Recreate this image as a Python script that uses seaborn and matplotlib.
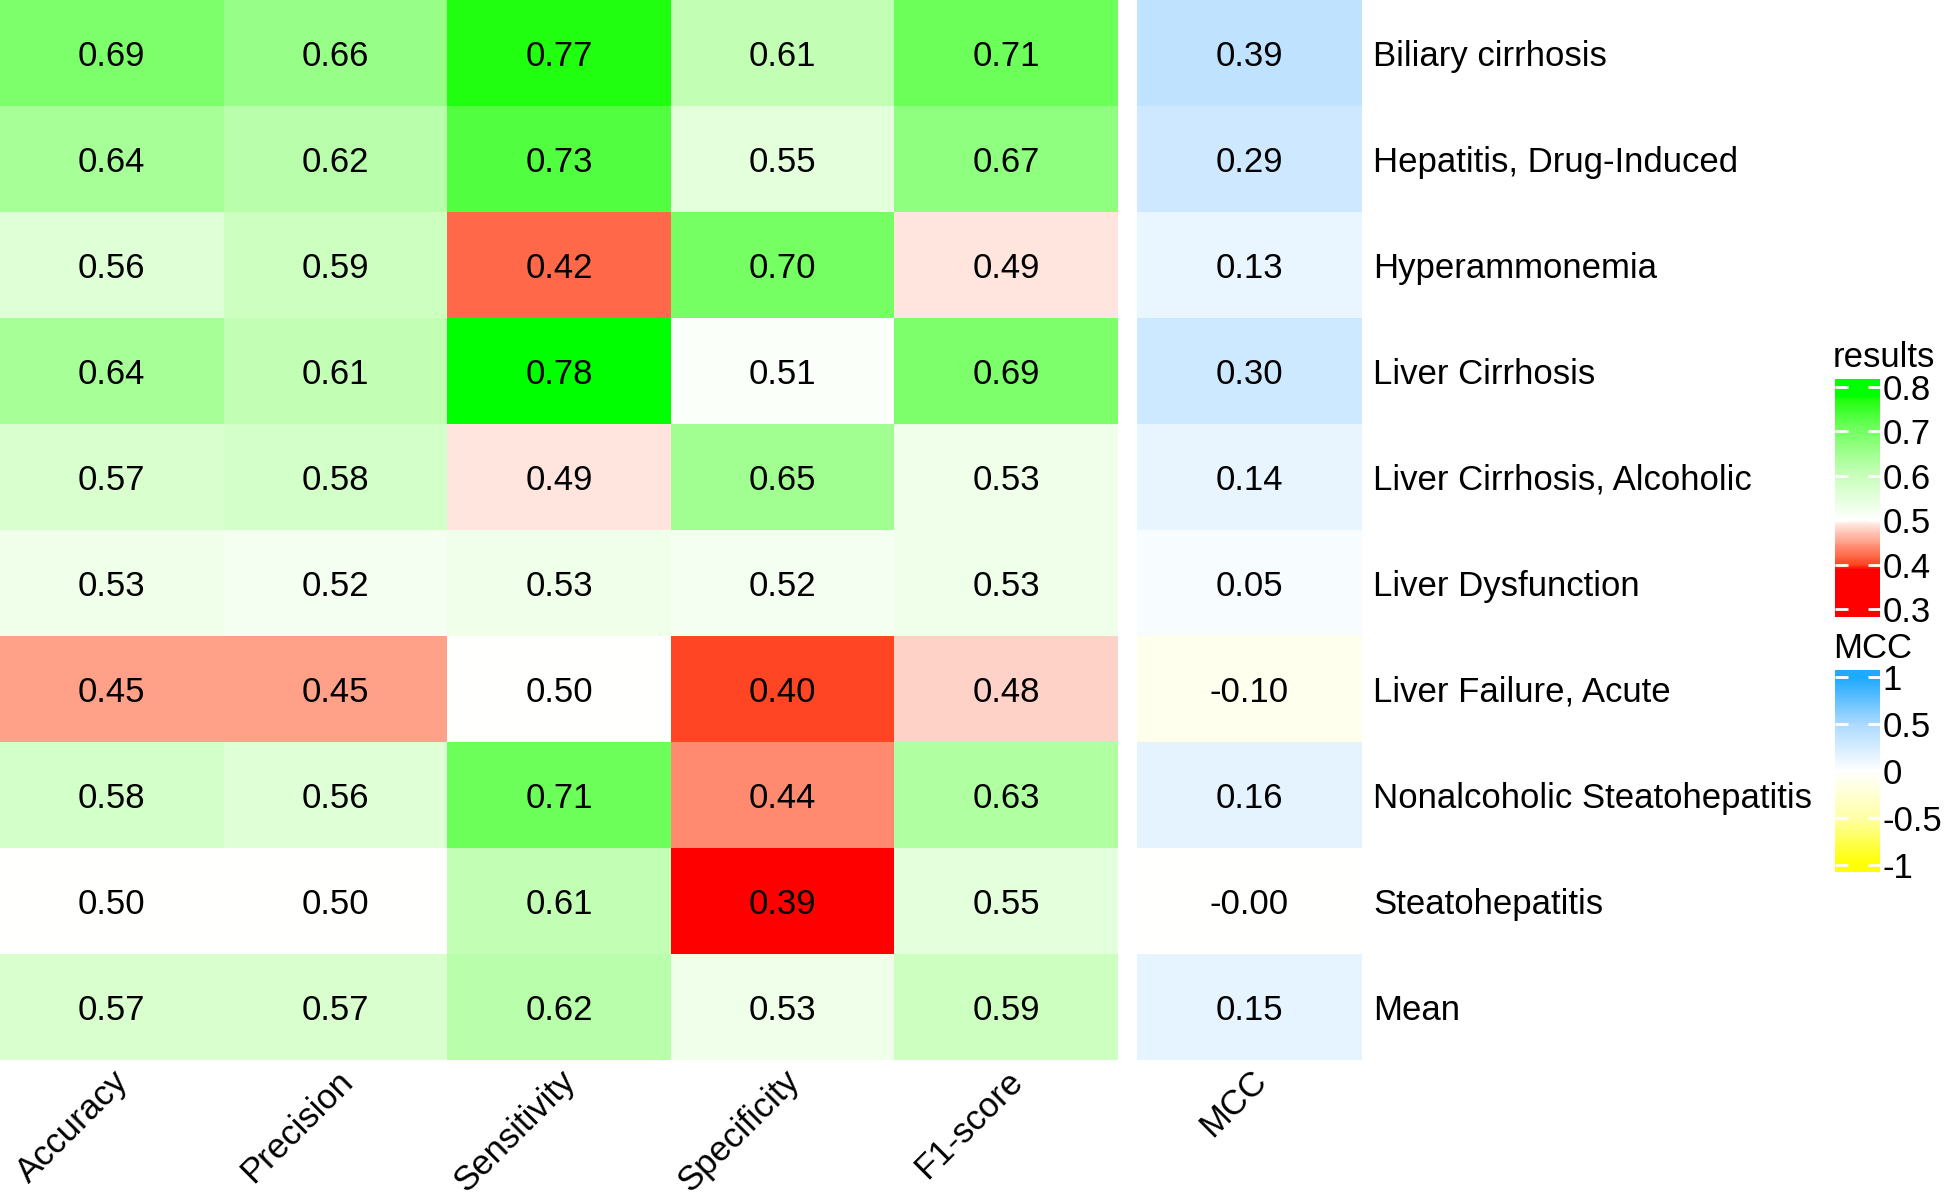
import numpy as np
import pandas as pd
import matplotlib
matplotlib.use("Agg")
import matplotlib.pyplot as plt
from matplotlib.colors import LinearSegmentedColormap
import seaborn as sns

diseases = ["Biliary cirrhosis", "Hepatitis, Drug-Induced", "Hyperammonemia",
            "Liver Cirrhosis", "Liver Cirrhosis, Alcoholic", "Liver Dysfunction",
            "Liver Failure, Acute", "Nonalcoholic Steatohepatitis",
            "Steatohepatitis", "Mean"]
metrics = ["Accuracy", "Precision", "Sensitivity", "Specificity", "F1-score"]

accuracy = [0.69, 0.64, 0.56, 0.64, 0.57, 0.53, 0.45, 0.58, 0.50, 0.57]
precision = [0.66, 0.62, 0.59, 0.61, 0.58, 0.52, 0.45, 0.56, 0.50, 0.57]
sensitivity = [0.77, 0.73, 0.42, 0.78, 0.49, 0.53, 0.50, 0.71, 0.61, 0.62]
specificity = [0.61, 0.55, 0.70, 0.51, 0.65, 0.52, 0.40, 0.44, 0.39, 0.53]
f1_score = [0.71, 0.67, 0.49, 0.69, 0.53, 0.53, 0.48, 0.63, 0.55, 0.59]
mcc = [0.39, 0.29, 0.13, 0.30, 0.14, 0.05, -0.10, 0.16, -0.001, 0.15]

results = pd.DataFrame({"Accuracy": accuracy, "Precision": precision,
                        "Sensitivity": sensitivity, "Specificity": specificity,
                        "F1-score": f1_score}, index=diseases)
mcc_df = pd.DataFrame({"MCC": mcc}, index=diseases)

plt.rcParams["font.family"] = ["Liberation Sans", "DejaVu Sans"]

# colour scales (slightly padded ranges, as in the reference colourbars)
lo, hi = 0.283, 0.817
stops = [(lo, "#ff0000"), (0.39, "#ff0000"), (0.40, "#ff4422"),
         (0.42, "#ff6a4a"), (0.44, "#ff8a70"), (0.45, "#ff9f88"),
         (0.49, "#ffe4dc"), (0.50, "#ffffff"), (0.55, "#e4ffdc"),
         (0.61, "#c2ffb4"), (0.71, "#6cff5a"), (0.77, "#22ff10"),
         (0.78, "#00ff00"), (hi, "#00ff00")]
res_cmap = LinearSegmentedColormap.from_list(
    "res", [((v - lo) / (hi - lo), c) for v, c in stops])

mlo, mhi = -1.08, 1.08
mstops = [(mlo, "#ffff00"), (-1.0, "#ffff00"), (-0.5, "#ffffa8"),
          (0.0, "#ffffff"), (0.5, "#acdaff"), (1.0, "#1eaaff"),
          (mhi, "#1eaaff")]
mcc_cmap = LinearSegmentedColormap.from_list(
    "mcc", [((v - mlo) / (mhi - mlo), c) for v, c in mstops])

W, H = 1946, 1196
fig = plt.figure(figsize=(W / 100, H / 100), dpi=100)
ax = fig.add_axes([0, 1 - 1060 / H, 1118 / W, 1060 / H])
ax2 = fig.add_axes([1137 / W, 1 - 1060 / H, 225 / W, 1060 / H])
cax1 = fig.add_axes([1835 / W, 1 - 617 / H, 45 / W, 238 / H])
cax2 = fig.add_axes([1835 / W, 1 - 872 / H, 45 / W, 202 / H])

fs = 25
akw = {"color": "black", "fontsize": fs, "va": "center_baseline"}
sns.heatmap(results, ax=ax, cmap=res_cmap, vmin=lo, vmax=hi, annot=True,
            fmt=".2f", annot_kws=akw, cbar_ax=cax1)
sns.heatmap(mcc_df, ax=ax2, cmap=mcc_cmap, vmin=mlo, vmax=mhi, annot=True,
            fmt=".2f", annot_kws=akw, cbar_ax=cax2)

ax.set_yticks([])
ax.set_ylabel("")
ax.set_xticklabels(metrics, rotation=45, ha="right", va="top",
                   rotation_mode="anchor", fontsize=fs)
ax.tick_params(axis="x", length=0, pad=3)

ax2.yaxis.tick_right()
ax2.set_yticks(np.arange(len(diseases)) + 0.5)
ax2.set_yticklabels(diseases, rotation=0, fontsize=fs, ha="left",
                    va="center_baseline")
ax2.set_xticklabels(["MCC"], rotation=45, ha="right", va="top",
                    rotation_mode="anchor", fontsize=fs)
ax2.tick_params(axis="both", length=0)
ax2.tick_params(axis="x", pad=3)
ax2.tick_params(axis="y", pad=8)
ax2.set_ylabel("")

for cax, ticks, labels, title in [
        (cax1, [0.3, 0.4, 0.5, 0.6, 0.7, 0.8],
         ["0.3", "0.4", "0.5", "0.6", "0.7", "0.8"], "results"),
        (cax2, [-1, -0.5, 0, 0.5, 1], ["-1", "-0.5", "0", "0.5", "1"], "MCC")]:
    cax.set_yticks(ticks)
    cax.set_yticklabels(labels, fontsize=fs)
    cax.tick_params(axis="y", direction="in", color="white", length=9,
                    width=2, left=True, right=True, pad=2)
    for s in cax.spines.values():
        s.set_visible(False)
    cax.set_title(title, fontsize=fs, loc="left", pad=9, x=-0.05)

fig.savefig("out.png", dpi=100)
